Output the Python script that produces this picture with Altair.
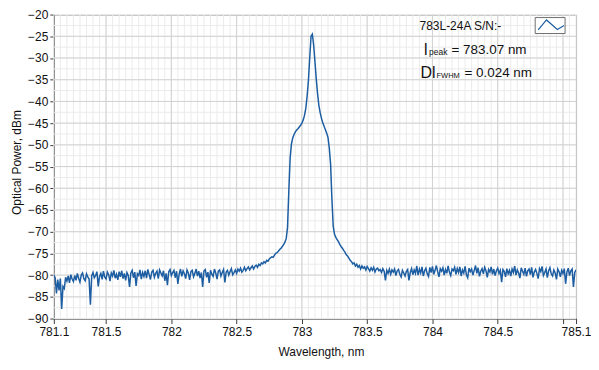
import altair as alt
import pandas as pd

# ---------------- data ----------------
WL_START = 781.10
WL_STEP = 0.01
power_dbm = [
    # 781.1x
    -80.0, -80.6, -84.2, -81.0, -83.5, -80.8, -87.8, -82.6, -83.1, -80.5,
    # 781.2x
    -81.4, -80.2, -81.8, -79.9, -80.9, -81.5, -80.1, -81.2, -79.6, -80.7,
    # 781.3x
    -81.6, -80.0, -79.5, -80.8, -81.3, -79.7, -80.4, -80.9, -86.8, -80.2,
    # 781.4x
    -79.4, -80.6, -80.1, -79.2, -82.6, -80.3, -79.6, -81.0, -79.1, -80.5,
    # 781.5x
    -80.9, -79.3, -79.9, -81.4, -79.5, -80.2, -78.9, -80.7, -79.8, -81.1,
    # 781.6x
    -79.2, -80.4, -79.0, -80.8, -79.6, -81.2, -79.4, -80.1, -82.7, -79.5,
    # 781.7x
    -78.9, -80.6, -79.3, -82.5, -79.7, -80.1, -78.8, -80.9, -79.4, -80.3,
    # 781.8x
    -79.0, -80.7, -78.7, -79.9, -81.0, -79.3, -78.9, -80.5, -79.6, -79.1,
    # 781.9x
    -80.8, -78.8, -79.5, -80.2, -79.0, -81.3, -79.6, -82.3, -79.2, -78.7,
    # 782.0x
    -80.1, -79.4, -78.9, -80.6, -79.1, -82.0, -79.8, -78.6, -80.3, -79.0,
    # 782.1x
    -79.7, -80.8, -78.8, -79.5, -81.1, -79.2, -78.9, -80.4, -79.6, -78.6,
    # 782.2x
    -80.2, -79.1, -80.7, -79.4, -82.7, -79.0, -78.7, -80.5, -79.3, -81.8,
    # 782.3x
    -78.9, -79.8, -80.3, -78.6, -79.5, -80.9, -79.1, -78.8, -80.2, -79.4,
    # 782.4x
    -78.7, -81.7, -79.3, -78.9, -80.0, -79.2, -78.5, -79.9, -79.4, -78.8,
    # 782.5x
    -79.6, -78.6, -79.1, -78.4, -79.3, -78.9, -78.2, -79.0, -78.5, -78.1,
    # 782.6x
    -78.8, -78.3, -77.9, -78.6, -78.0, -77.7, -78.2, -77.5, -77.8, -77.2,
    # 782.7x
    -77.4, -76.9, -77.2, -76.6, -76.8, -76.3, -76.0, -75.8, -75.9, -75.4,
    # 782.8x
    -75.0, -74.8, -74.5, -74.1, -73.8, -73.4, -73.0, -72.4, -71.6, -69.0,
    # 782.9x
    -60.5, -53.0, -49.8, -48.4, -47.6, -47.0, -46.6, -46.3, -45.9, -45.5,
    # 783.0x
    -45.0, -44.3, -43.2, -41.6, -38.8, -35.2, -30.0, -25.0, -24.5, -27.0,
    # 783.1x
    -30.8, -34.8, -38.2, -40.9, -42.6, -43.9, -44.9, -45.7, -46.5, -47.3,
    # 783.2x
    -48.3, -50.8, -54.5, -62.5, -68.8, -70.6, -71.3, -71.8, -72.3, -72.9,
    # 783.3x
    -73.4, -73.8, -74.3, -74.7, -75.3, -75.6, -76.1, -76.6, -76.9, -77.4,
    # 783.4x
    -77.2, -77.9, -77.5, -78.2, -77.8, -78.6, -77.9, -78.4, -78.1, -78.8,
    # 783.5x
    -78.0, -78.5, -79.1, -78.3, -78.9, -78.2, -79.3, -78.6, -78.4, -79.0,
    # 783.6x
    -78.7, -79.4, -78.5, -79.1, -81.2, -78.9, -79.6, -78.6, -79.8, -78.8,
    # 783.7x
    -79.3, -78.6, -80.1, -79.0, -78.7, -79.8, -80.4, -78.9, -79.5, -80.2,
    # 783.8x
    -79.1, -78.7, -81.2, -79.4, -78.5, -79.9, -78.8, -79.6, -77.9, -80.0,
    # 783.9x
    -78.6, -79.5, -78.1, -80.2, -79.0, -78.4, -79.7, -80.3, -78.2, -79.4,
    # 784.0x
    -78.0, -79.8, -78.9, -77.8, -79.2, -80.4, -78.5, -79.1, -78.3, -80.0,
    # 784.1x
    -78.7, -79.6, -77.9, -79.3, -80.1, -78.6, -79.0, -78.2, -79.8, -78.5,
    # 784.2x
    -79.4, -78.1, -80.2, -78.8, -79.5, -78.0, -79.9, -80.6, -78.4, -79.2,
    # 784.3x
    -78.6, -80.0, -78.9, -77.8, -79.6, -78.3, -80.3, -79.1, -78.5, -79.7,
    # 784.4x
    -78.2, -79.0, -80.5, -78.7, -79.3, -78.1, -79.8, -78.6, -80.1, -79.0,
    # 784.5x
    -78.4, -79.6, -78.9, -81.6, -78.7, -79.2, -80.4, -78.5, -79.7, -78.9,
    # 784.6x
    -80.2, -78.6, -79.4, -77.9, -80.0, -78.8, -79.5, -80.7, -78.3, -79.1,
    # 784.7x
    -79.8, -78.4, -80.3, -79.0, -78.6, -79.9, -78.2, -80.5, -79.3, -78.7,
    # 784.8x
    -79.6, -80.8, -78.5, -79.2, -78.0, -80.1, -79.4, -78.6, -80.6, -79.0,
    # 784.9x
    -78.3, -79.7, -80.2, -78.8, -79.5, -81.0, -78.6, -79.2, -80.4, -78.9,
    # 785.0x
    -79.6, -78.5, -82.0, -79.3, -78.4, -80.1, -79.0, -78.6, -82.7, -79.4,
    # 785.10
    -78.8,
]

x_ticks = [781.1, 781.5, 782, 782.5, 783, 783.5, 784, 784.5, 785, 785.1]
x_unlabelled = [785]
y_ticks = [-90, -85, -80, -75, -70, -65, -60, -55, -50, -45, -40, -35, -30, -25, -20]
x_major_grid = [781.5, 782, 782.5, 783, 783.5, 784, 784.5, 785]
y_major_grid = [-85, -80, -75, -70, -65, -60, -55, -50, -45, -40, -35, -30, -25]
x_title = "Wavelength, nm"
y_title = "Optical Power, dBm"
legend_label = "783L-24A S/N:-"
peak_symbol, peak_sub, peak_text = "l", "peak", "= 783.07 nm"
fwhm_symbol, fwhm_sub, fwhm_text = "Dl", "FWHM", "= 0.024 nm"

# ---------------- tables ----------------
wl = [round(WL_START + i * WL_STEP, 2) for i in range(len(power_dbm))]
df = pd.DataFrame({"wl": wl, "p": power_dbm})

x_minor_grid = [round(781.1 + 0.05 * k, 2) for k in range(81)]
y_minor_grid = [-90 + 2.5 * k for k in range(29)]

FONT = "Liberation Sans"
LINE_COLOR = "#1d5ea3"

xscale = alt.Scale(domain=[781.1, 785.1], nice=False, zero=False)
yscale = alt.Scale(domain=[-90, -20], nice=False, zero=False)

hide = " || ".join(f"datum.value == {v}" for v in x_unlabelled)
x_axis = alt.Axis(
    values=x_ticks, title=x_title, grid=False,
    labelExpr=f"({hide}) ? '' : format(datum.value, '~g')",
    labelOverlap=False, labelFlush=False,
    tickSize=5, labelPadding=3,
    titleX=268, titleY=33, titleBaseline="middle", titleAnchor="middle",
)
y_axis = alt.Axis(
    values=y_ticks, format="d", title=y_title, grid=False,
    labelOverlap=False, labelFlush=False,
    tickSize=4, labelPadding=2,
    titleX=-37, titleY=148, titleBaseline="middle", titleAnchor="middle",
)

X = alt.X("wl:Q", scale=xscale, axis=x_axis)
Y = alt.Y("p:Q", scale=yscale, axis=y_axis)

minor_v = alt.Chart(pd.DataFrame({"wl": x_minor_grid})).mark_rule(
    color="#ebebeb", strokeWidth=1).encode(x=X)
minor_h = alt.Chart(pd.DataFrame({"p": y_minor_grid})).mark_rule(
    color="#ebebeb", strokeWidth=1).encode(y=Y)
major_v = alt.Chart(pd.DataFrame({"wl": x_major_grid})).mark_rule(
    color="#d2d2d2", strokeWidth=1).encode(x=X)
major_h = alt.Chart(pd.DataFrame({"p": y_major_grid})).mark_rule(
    color="#d2d2d2", strokeWidth=1).encode(y=Y)

line = alt.Chart(df).mark_line(
    color=LINE_COLOR, strokeWidth=1.5, clip=True, interpolate="linear"
).encode(x=X, y=Y)

# ---------------- annotation (legend box + text) ----------------
ann = pd.DataFrame({"k": [0]})
icon_box = alt.Chart(ann).mark_rect(
    fill="white", stroke="#6e6e6e", strokeWidth=1
).encode(x=alt.value(483), x2=alt.value(513), y=alt.value(3), y2=alt.value(19))
icon_glyph = alt.Chart(ann).mark_point(
    shape="M-1,0.38L-0.36,-0.38L0.48,0.36L1,0.05",
    filled=False, color=LINE_COLOR, strokeWidth=1.2, size=676, opacity=1,
).encode(x=alt.value(499), y=alt.value(10.3))


def txt(s, x, y, size, baseline="alphabetic"):
    return alt.Chart(ann).mark_text(
        text=s, align="left", baseline=baseline, font=FONT,
        fontSize=size, color="#111111",
    ).encode(x=alt.value(x), y=alt.value(y))


texts = [
    txt(legend_label, 367, 11, 12, "middle"),
    txt(peak_symbol, 371.5, 41, 16),
    txt(peak_sub, 376.5, 41, 8.5),
    txt(peak_text, 399, 39.5, 13.5),
    txt(fwhm_symbol, 368, 63.3, 16),
    txt(fwhm_sub, 384, 63.5, 7.5),
    txt(fwhm_text, 412, 62.5, 13.5),
]

chart = alt.layer(
    minor_v, minor_h, major_v, major_h, line, icon_box, icon_glyph, *texts
).properties(
    width=524, height=305,
    padding={"left": 46, "top": 6, "right": 15, "bottom": 45},
    autosize=alt.AutoSizeParams(type="none"),
    background="white",
).configure_view(
    stroke="#9a9a9a", strokeWidth=1
).configure_axis(
    labelFont=FONT, labelFontSize=12, labelColor="#111111",
    titleFont=FONT, titleFontSize=12, titleFontWeight="normal", titleColor="#111111",
    domainColor="#5a5a5a", tickColor="#3a3a3a", domainWidth=1, tickWidth=1,
)

chart.save("out.html", embed_options={"renderer": "svg", "actions": False})
